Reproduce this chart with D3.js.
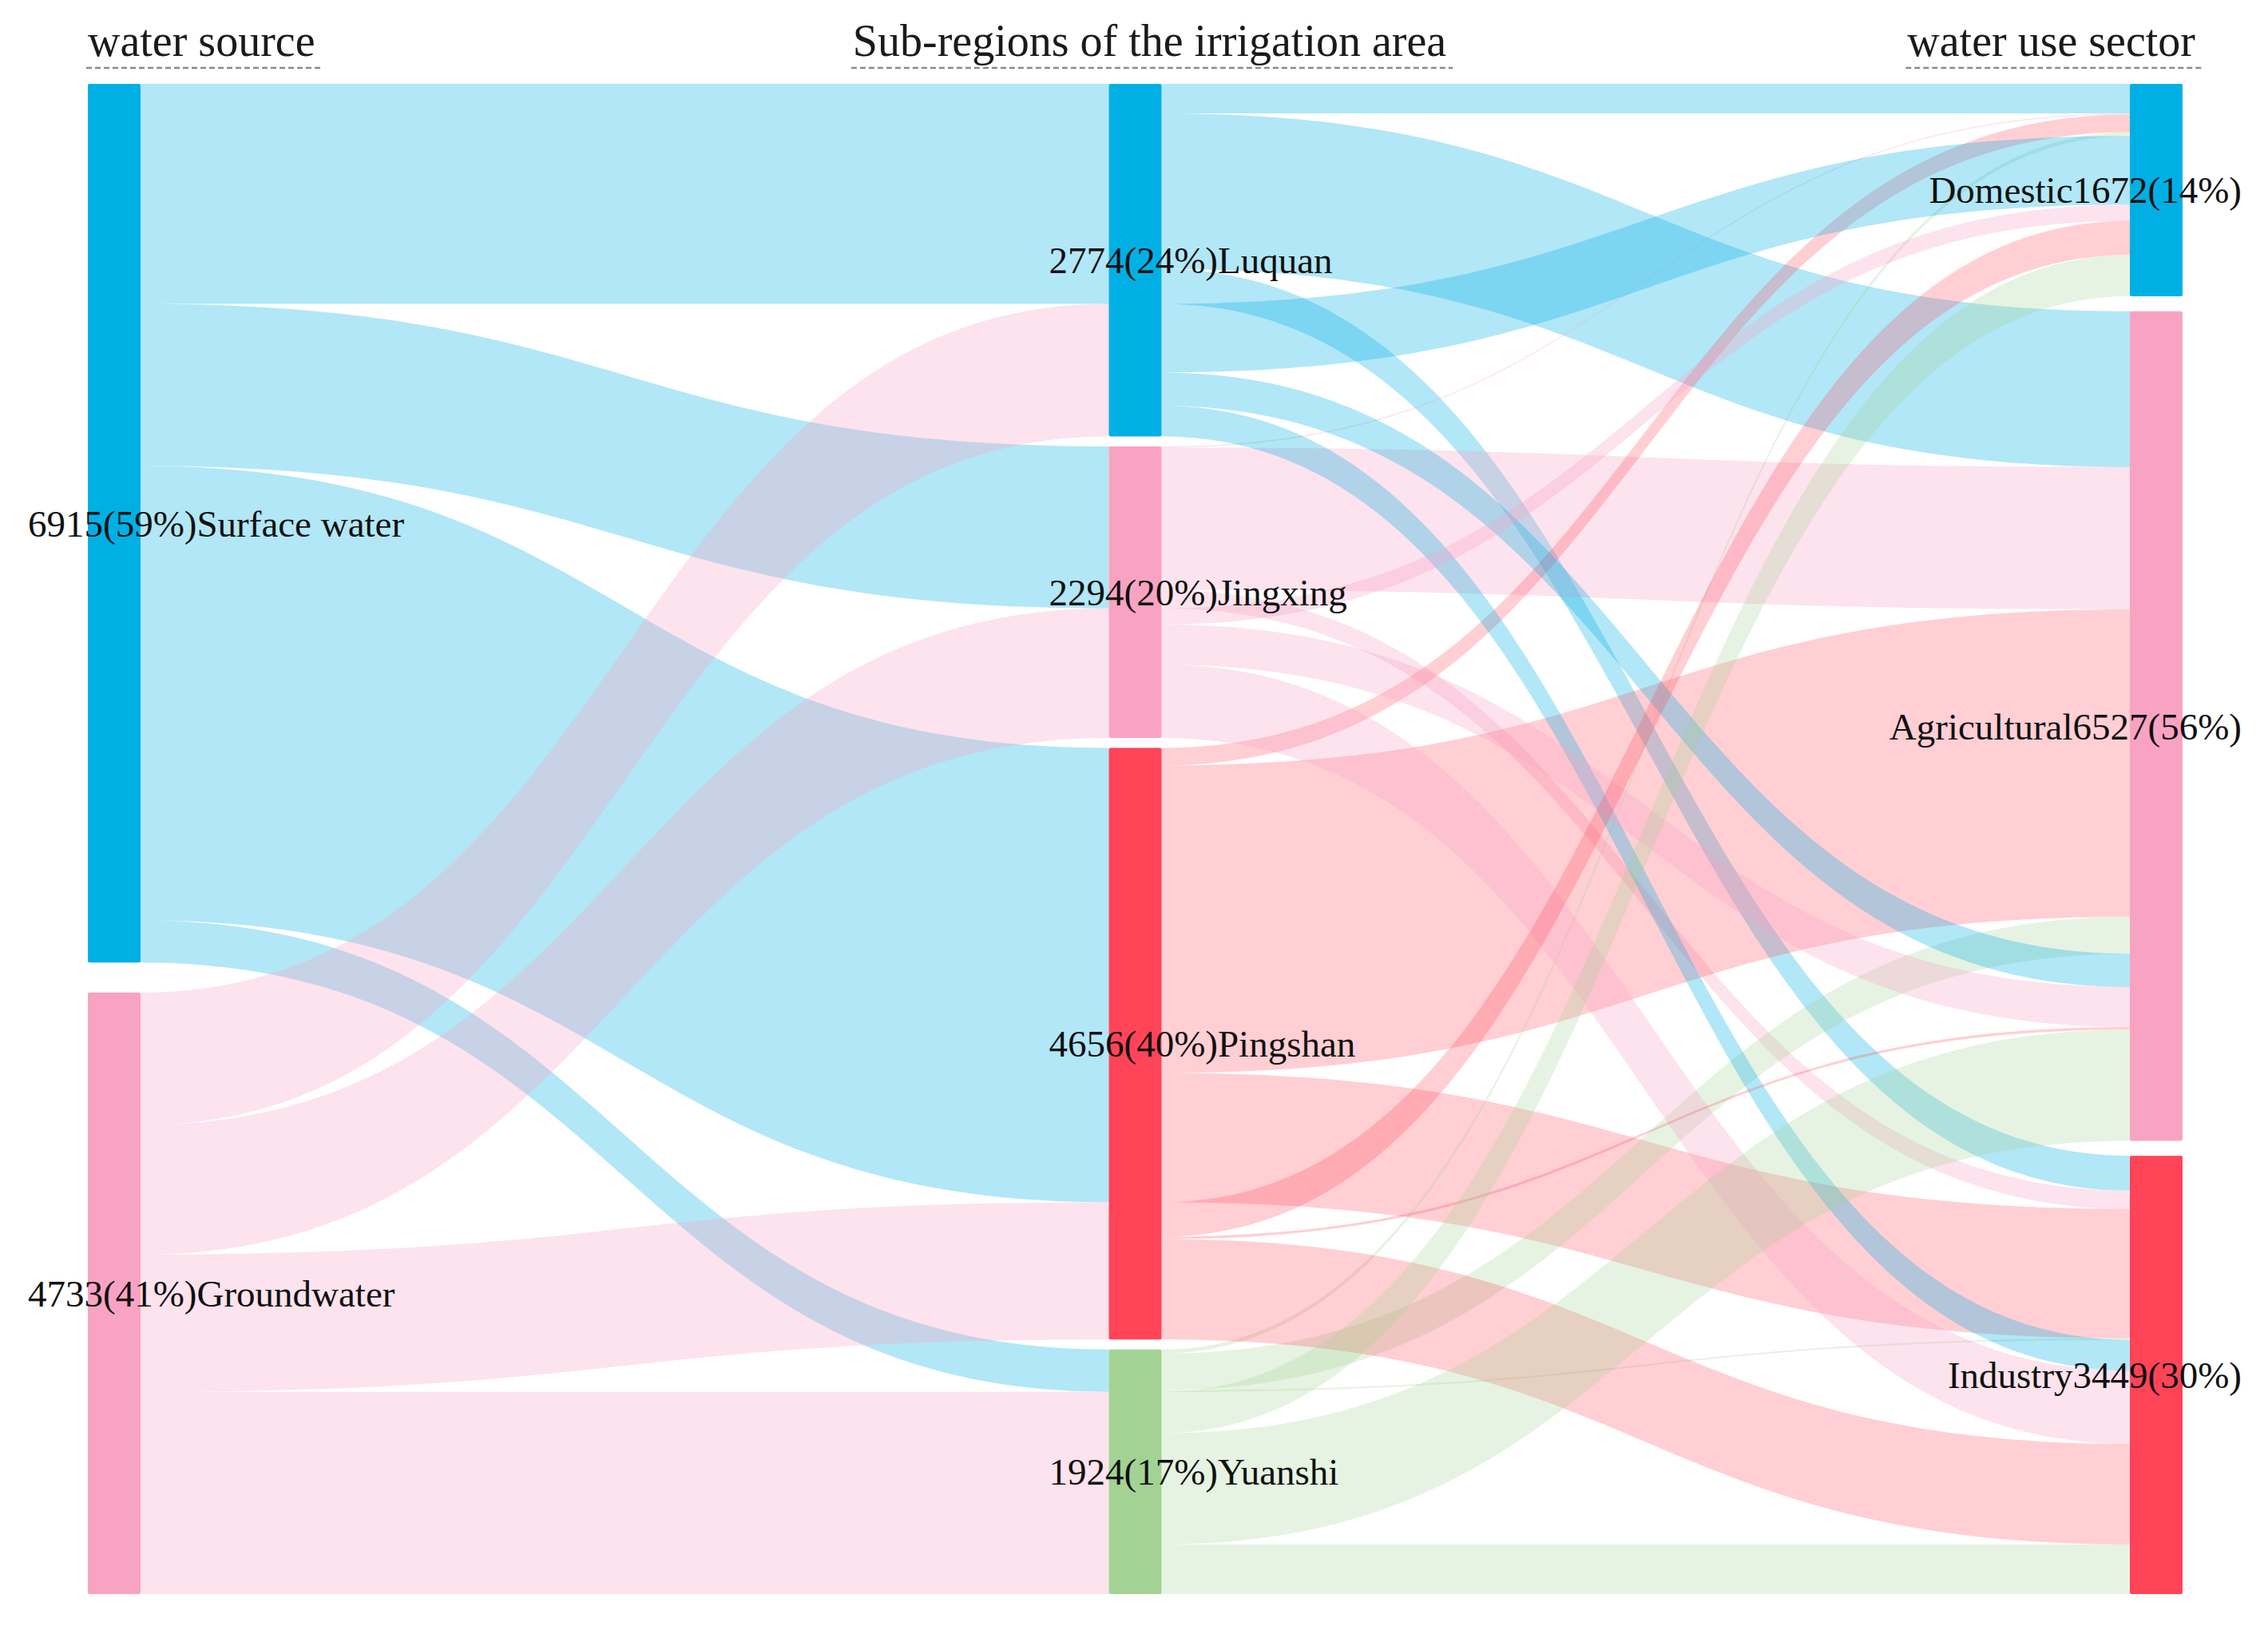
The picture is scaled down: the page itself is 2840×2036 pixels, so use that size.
<!DOCTYPE html>
<html><head><meta charset="utf-8">
<script src="https://cdn.jsdelivr.net/npm/d3@7/dist/d3.min.js"></script>
<style>html,body{margin:0;padding:0;background:#fff;} svg{display:block;}</style>
</head><body>
<svg id="chart" width="2840" height="2036"></svg>
<script>
// ---------- data ----------
const columnTitles = ["water source", "Sub-regions of the irrigation area", "water use sector"];
const sources = ["Surface water", "Groundwater"];
const regions = ["Luquan", "Jingxing", "Pingshan", "Yuanshi"];
const sectors = ["Domestic", "Agricultural", "Industry"];
// water source -> sub-region
const surfaceToRegion = [1731, 1275, 3576, 333];
const groundToRegion  = [1043, 1019, 1080, 1591];
// sub-region -> sector (rows: regions, cols: Domestic, Agricultural, Industry)
const surfaceRegionToSector = [[232, 1225, 274], [10, 1120, 145], [138, 2420, 1018], [30, 290, 13]];
const groundRegionToSector  = [[540, 262, 241], [127, 315, 577], [270, 20, 790], [325, 875, 391]];
const sourceColors = ["#00b0e4", "#f9a3c2"];
const regionColors = ["#00b0e4", "#f9a3c2", "#ff4458", "#a2d394"];
const sectorColors = ["#00b0e4", "#f9a3c2", "#ff4458"];

// ---------- layout ----------
const svg = d3.select("#chart");
const topY = 105, bottomY = 1996, nodeW = 66, gapTotal = 37.5;
const total = d3.sum(surfaceToRegion) + d3.sum(groundToRegion);
const xCol = d3.scalePoint().domain([0, 1, 2]).range([110, 2667]);
const hScale = d3.scaleLinear().domain([0, total]).range([0, bottomY - topY - gapTotal]);

const srcNodes = sources.map((n, i) => ({name: n, col: 0, color: sourceColors[i],
  value: i === 0 ? d3.sum(surfaceToRegion) : d3.sum(groundToRegion)}));
const regNodes = regions.map((n, i) => ({name: n, col: 1, color: regionColors[i],
  value: surfaceToRegion[i] + groundToRegion[i]}));
const secNodes = sectors.map((n, k) => ({name: n, col: 2, color: sectorColors[k],
  value: d3.sum(regions, (_, r) => surfaceRegionToSector[r][k] + groundRegionToSector[r][k])}));
[srcNodes, regNodes, secNodes].forEach(col => {
  const gap = gapTotal / (col.length - 1);
  let y = topY;
  col.forEach(n => {
    n.x0 = xCol(n.col); n.x1 = n.x0 + nodeW;
    n.y0 = y; n.y1 = y + hScale(n.value); y = n.y1 + gap;
    n.outCur = n.y0; n.inCur = n.y0;
  });
});

const links = [];
// source -> region links (order at source: regions; at region: surface then ground)
const lA = [];
[surfaceToRegion, groundToRegion].forEach((arr, s) => arr.forEach((v, r) =>
  lA.push({source: srcNodes[s], target: regNodes[r], value: v, color: sourceColors[s], s, r})));
srcNodes.forEach((n, s) => lA.filter(l => l.s === s).forEach(l => { l.sy = n.outCur; n.outCur += hScale(l.value); }));
regNodes.forEach((n, r) => lA.filter(l => l.r === r).forEach(l => { l.ty = n.inCur; n.inCur += hScale(l.value); }));
// region -> sector links (split by water origin)
const lB = [];
[surfaceRegionToSector, groundRegionToSector].forEach((mat, s) => mat.forEach((row, r) => row.forEach((v, k) =>
  lB.push({source: regNodes[r], target: secNodes[k], value: v, color: regionColors[r], s, r, k}))));
regNodes.forEach((n, r) => [0, 1].forEach(s => [0, 1, 2].forEach(k => {
  const l = lB.find(d => d.r === r && d.s === s && d.k === k); l.sy = n.outCur; n.outCur += hScale(l.value); })));
secNodes.forEach((n, k) => [0, 1].forEach(s => [0, 1, 2, 3].forEach(r => {
  const l = lB.find(d => d.r === r && d.s === s && d.k === k); l.ty = n.inCur; n.inCur += hScale(l.value); })));
links.push(...lA, ...lB);

function band(l) {
  const x0 = l.source.x1, x1 = l.target.x0, xm = (x0 + x1) / 2, h = hScale(l.value);
  const p = d3.path();
  p.moveTo(x0, l.sy);
  p.bezierCurveTo(xm, l.sy, xm, l.ty, x1, l.ty);
  p.lineTo(x1, l.ty + h);
  p.bezierCurveTo(xm, l.ty + h, xm, l.sy + h, x0, l.sy + h);
  p.closePath();
  return p.toString();
}
const linkOpacity = c => (c === "#ff4458" ? 0.26 : (c === "#a2d394" ? 0.27 : 0.3));

svg.append("g").selectAll("path").data(links).join("path")
  .attr("d", band).attr("fill", d => d.color).attr("fill-opacity", d => linkOpacity(d.color));

const nodes = [...srcNodes, ...regNodes, ...secNodes];
svg.append("g").selectAll("rect").data(nodes).join("rect")
  .attr("x", d => d.x0).attr("y", d => d.y0).attr("width", nodeW).attr("height", d => d.y1 - d.y0)
  .attr("rx", 2).attr("fill", d => d.color);

const font = "'Liberation Serif', 'Times New Roman', serif";
svg.append("g").selectAll("text").data(nodes).join("text")
  .attr("x", d => d.col === 2 ? d.x1 + 74 : d.x0 - 75)
  .attr("y", d => (d.y0 + d.y1) / 2).attr("dy", "0.35em")
  .attr("text-anchor", d => d.col === 2 ? "end" : "start")
  .attr("font-family", font).attr("font-size", 47).attr("fill", "#111")
  .text(d => {
    const pct = Math.round(d.value / total * 100);
    return d.col === 2 ? `${d.name}${d.value}(${pct}%)` : `${d.value}(${pct}%)${d.name}`;
  });

// column titles with dashed underline
const titleX = [xCol(0), xCol(1) + nodeW / 2 + 18, xCol(2) + nodeW + 16];
const titleAnchor = ["start", "middle", "end"];
const tg = svg.append("g");
columnTitles.forEach((t, i) => {
  const txt = tg.append("text").attr("x", titleX[i]).attr("y", 70)
    .attr("text-anchor", titleAnchor[i]).attr("font-family", font)
    .attr("font-size", 56).attr("fill", "#1a1a1a").text(t);
  const bb = txt.node().getBBox();
  tg.append("line").attr("x1", bb.x - 2).attr("x2", bb.x + bb.width + 8)
    .attr("y1", 85).attr("y2", 85).attr("stroke", "#8a8a8a")
    .attr("stroke-width", 2.5).attr("stroke-dasharray", "7,4");
});
</script>
</body></html>
